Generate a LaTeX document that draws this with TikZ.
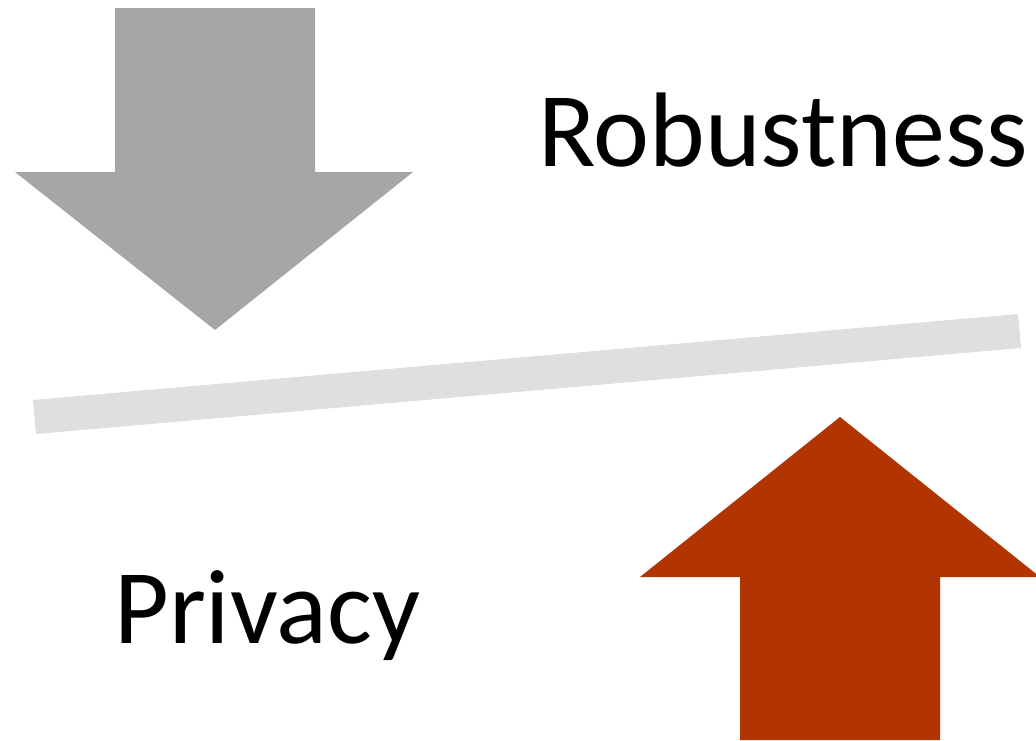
\documentclass[tikz,border=0pt]{standalone}
\usepackage{fontspec}
\setmainfont{Carlito}
\usepackage{tikz}
\definecolor{downgrey}{RGB}{166,166,166}
\definecolor{beamgrey}{RGB}{223,223,223}
\definecolor{uprust}{RGB}{178,52,0}

\begin{document}
\begin{tikzpicture}[x=1pt, y=-1pt,
    lbl/.style={inner sep=0pt, anchor=base west, font=\fontsize{106}{127}\selectfont}
]
    \clip (0,0) rectangle (1036,740);
    % arrow pushing down
    \fill[downgrey] (115,8) -- (315,8) -- (315,172) -- (413,172) -- (215,330)
        -- (15,172) -- (115,172) -- cycle;
    % tilted beam
    \fill[beamgrey] (33,400) -- (1018,314) -- (1021,348) -- (36,434) -- cycle;
    % arrow pushing up
    \fill[uprust] (840,417) -- (1040,577) -- (940,577) -- (940,740)
        -- (740,740) -- (740,577) -- (640,577) -- cycle;
    \node[lbl] (robust) at (538,166) {Robustness};
    \node[lbl] (priv) at (114,643) {Privacy};
\end{tikzpicture}
\end{document}
